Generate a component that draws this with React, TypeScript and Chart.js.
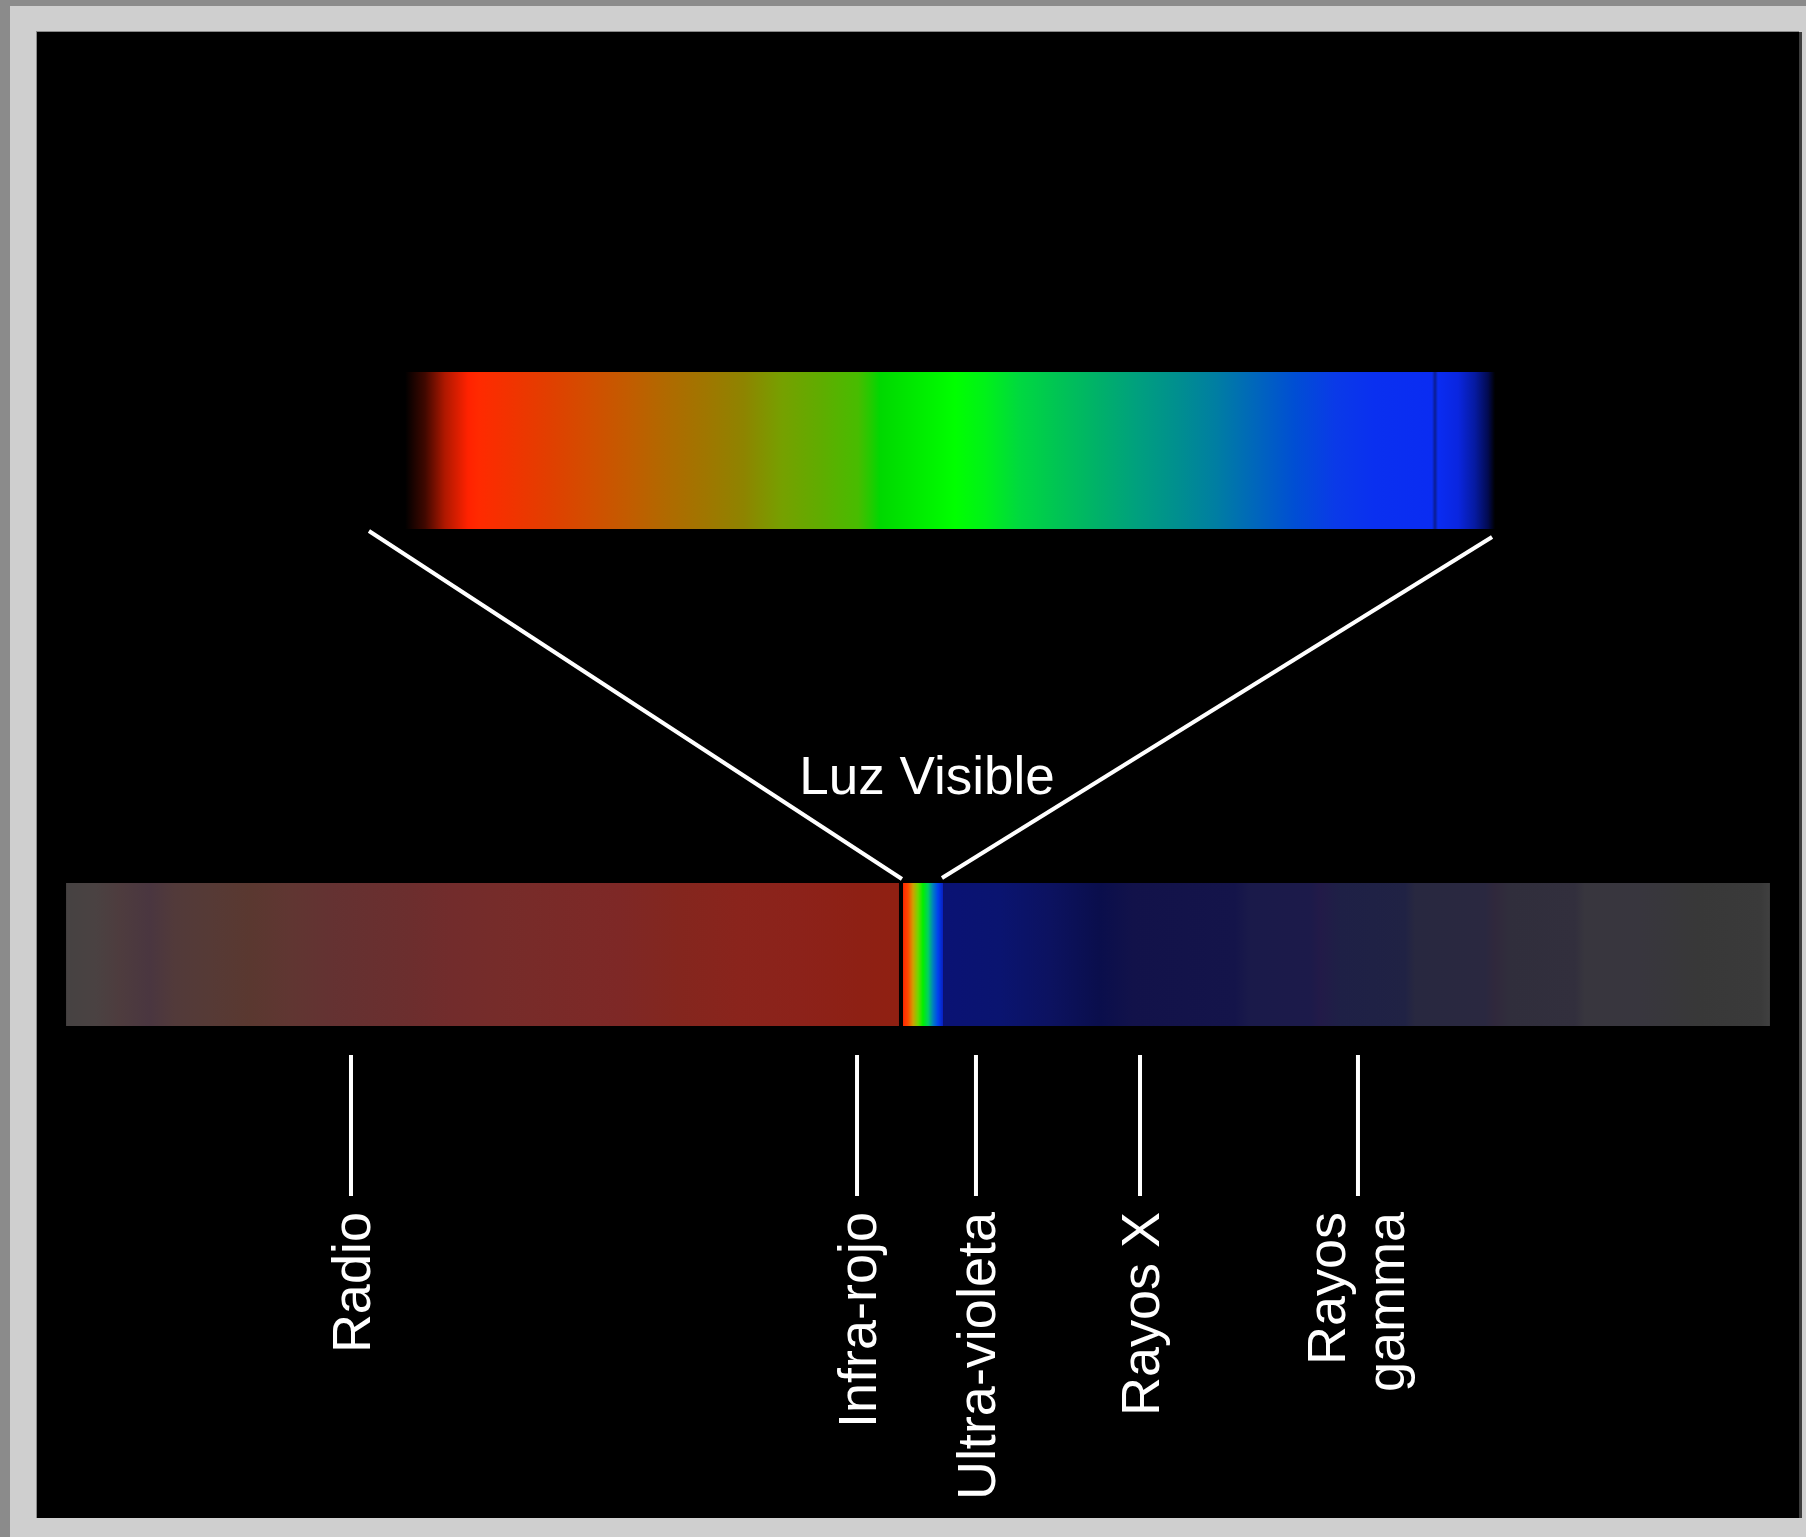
import React, { useEffect, useRef } from 'react';
import { Chart, registerables } from 'chart.js';

Chart.register(...registerables);

// ---------- data (scale units: x 0..100 across, y 0..100 bottom→top) ----------
const bandLabels = ['Radio', 'Infra-rojo', 'Ultra-violeta', 'Rayos X', 'Rayos\ngamma'];
const bandTickX = [17.82, 46.54, 53.29, 62.6, 74.97];
const bandTickY = [31.16, 21.67];
const bandLabelEndY = 20.59;

const visibleTitle = 'Luz Visible';
const visibleTitleX = 50.51;
const visibleTitleY = 48.72;

// full spectrum strip
const spectrumY = [33.11, 42.73];
const lowSideX = [1.65, 48.92];
const visibleSliceX = [49.15, 51.42];
const highSideX = [51.42, 98.35];

// enlarged visible band
const visibleBarX = [20.89, 82.75];
const visibleBarY = [66.55, 77.12];

// zoom guide lines
const leftGuideX = [18.84, 49.09];
const leftGuideY = [66.42, 43.0];
const rightGuideX = [82.58, 51.36];
const rightGuideY = [66.02, 43.07];

// colour stops
const visibleStopX = [20.89, 22.02, 23.16, 24.46, 25.09, 27.07, 29.23, 31.38, 33.6, 35.75, 37.91, 40.12, 42.28, 44.44, 46.59, 47.28, 47.84, 50.96, 52.1, 53.8, 55.79, 57.95, 60.33, 62.43, 64.87, 66.91, 69.18, 71.4, 73.67, 75.88, 79.17, 79.34, 79.51, 80.65, 81.61, 82.35, 82.75];
const visibleStopColor = ['#000000', '#400800', '#b01800', '#ff2200', '#ff2a00', '#f03400', '#e04000', '#d24e00', '#c25c00', '#b06a00', '#a07600', '#8e8400', '#76a000', '#60ac00', '#48bc00', '#24ca00', '#00d800', '#00f400', '#00ff00', '#00f218', '#00d840', '#00c454', '#00b06a', '#00a07e', '#008e90', '#007ea2', '#0066bc', '#004ed4', '#0a3ae8', '#0a30f0', '#0a2cf2', '#0a1c90', '#0a2cf2', '#0a26e0', '#061aa0', '#020a50', '#000000'];

const lowStopX = [1.65, 3.29, 4.71, 6.41, 7.83, 9.82, 12.09, 14.36, 16.63, 18.9, 21.17, 23.44, 26.28, 29.68, 33.09, 36.49, 39.9, 43.3, 46.71, 48.92];
const lowStopColor = ['#464242', '#4a4242', '#4e3c3e', '#4a3640', '#523a3a', '#563a36', '#5a3830', '#603632', '#643232', '#683030', '#6c2e2e', '#722c2c', '#762c2a', '#7a2a28', '#7e2826', '#84261e', '#8a241c', '#8c221a', '#8e2014', '#902012'];

const sliceStopX = [49.15, 49.43, 49.72, 50.0, 50.28, 50.57, 50.85, 51.14, 51.42];
const sliceStopColor = ['#ff2800', '#ff4800', '#d0a000', '#70d800', '#00f000', '#00d060', '#0080c0', '#0040f0', '#0a20c0'];

const highStopX = [51.42, 54.65, 57.49, 60.33, 62.2, 67.99, 68.84, 72.25, 72.81, 73.95, 77.64, 78.21, 82.18, 82.75, 83.6, 87.29, 87.85, 90.98, 94.38, 97.79, 98.35];
const highStopColor = ['#0a1274', '#0a1470', '#0c1260', '#0a0e4c', '#12124a', '#14144a', '#1a1a4a', '#1c1a4a', '#221a48', '#1e2046', '#202244', '#282840', '#2a2840', '#30283c', '#302e3c', '#322f3d', '#38363e', '#38363e', '#383838', '#3a3a3a', '#404040'];

// ---------- helpers ----------
function hGradient(stopX: number[], colors: string[]) {
  return (ctx: any) => {
    const chart = ctx.chart;
    const xs = chart.scales && chart.scales.x;
    if (!xs || !chart.chartArea) return colors[0];
    const x0 = xs.getPixelForValue(stopX[0]);
    const x1 = xs.getPixelForValue(stopX[stopX.length - 1]);
    const g = chart.ctx.createLinearGradient(x0, 0, x1, 0);
    stopX.forEach((v: number, i: number) => {
      const t = Math.min(1, Math.max(0, (xs.getPixelForValue(v) - x0) / (x1 - x0)));
      g.addColorStop(t, colors[i]);
    });
    return g;
  };
}

function bandDataset(xr: number[], yr: number[], stopX: number[], colors: string[]) {
  return {
    data: [
      { x: xr[0], y: yr[1] },
      { x: xr[1], y: yr[1] },
    ],
    fill: { value: yr[0] },
    backgroundColor: hGradient(stopX, colors),
    borderColor: 'rgba(0,0,0,0)',
    borderWidth: 0,
    pointRadius: 0,
  };
}

function lineDataset(xs: number[], ys: number[], width: number) {
  return {
    data: xs.map((x, i) => ({ x, y: ys[i] })),
    fill: false,
    borderColor: '#ffffff',
    borderWidth: width,
    pointRadius: 0,
    borderCapStyle: 'butt',
  };
}

const FONT = '"Liberation Sans", Arial, Helvetica, sans-serif';

const textPlugin = {
  id: 'spectrumText',
  afterDatasetsDraw(chart: any) {
    const { ctx, scales } = chart;
    const xs = scales.x;
    const ys = scales.y;
    ctx.save();
    ctx.fillStyle = '#ffffff';
    // title over the visible slice
    ctx.font = `53px ${FONT}`;
    ctx.textAlign = 'center';
    ctx.textBaseline = 'alphabetic';
    ctx.fillText(visibleTitle, xs.getPixelForValue(visibleTitleX), ys.getPixelForValue(visibleTitleY));
    // rotated band labels
    const size = 54;
    const capH = size * 0.716;
    const lineH = 59;
    ctx.font = `${size}px ${FONT}`;
    bandLabels.forEach((label, i) => {
      const lines = label.split('\n');
      const n = lines.length;
      const px = xs.getPixelForValue(bandTickX[i]);
      const py = ys.getPixelForValue(bandLabelEndY);
      ctx.save();
      ctx.translate(px, py);
      ctx.rotate(-Math.PI / 2);
      ctx.textAlign = 'right';
      ctx.textBaseline = 'alphabetic';
      lines.forEach((ln, j) => {
        const off = capH / 2 + (j - (n - 1) / 2) * lineH - (n > 1 ? 3 : 0);
        ctx.fillText(ln, 0, off);
      });
      ctx.restore();
    });
    ctx.restore();
  },
};

export default function App() {
  const ref = useRef<HTMLCanvasElement | null>(null);

  useEffect(() => {
    if (!ref.current) return;
    const datasets: any[] = [
      bandDataset(visibleBarX, visibleBarY, visibleStopX, visibleStopColor),
      bandDataset(lowSideX, spectrumY, lowStopX, lowStopColor),
      bandDataset(visibleSliceX, spectrumY, sliceStopX, sliceStopColor),
      bandDataset(highSideX, spectrumY, highStopX, highStopColor),
      lineDataset(leftGuideX, leftGuideY, 4),
      lineDataset(rightGuideX, rightGuideY, 4),
      ...bandTickX.map((x) => lineDataset([x, x], bandTickY, 4)),
    ];
    const chart = new Chart(ref.current, {
      type: 'line',
      data: { datasets },
      options: {
        animation: false,
        responsive: false,
        maintainAspectRatio: false,
        events: [],
        layout: { padding: 0 },
        parsing: true,
        plugins: {
          legend: { display: false },
          tooltip: { enabled: false },
          title: { display: false },
        },
        scales: {
          x: { type: 'linear', min: 0, max: 100, display: false },
          y: { type: 'linear', min: 0, max: 100, display: false },
        },
      } as any,
      plugins: [textPlugin],
    });
    return () => chart.destroy();
  }, []);

  return (
    <div
      style={{
        position: 'fixed',
        left: 0,
        top: 0,
        width: 1806,
        height: 1537,
        background: '#cfcfcf',
        overflow: 'hidden',
      }}
    >
      <div style={{ position: 'absolute', left: 0, top: 0, width: 1806, height: 6, background: '#8b8b8b' }} />
      <div style={{ position: 'absolute', left: 0, top: 0, width: 10, height: 1537, background: '#8b8b8b' }} />
      <div style={{ position: 'absolute', left: 1799, top: 32, width: 3, height: 1486, background: '#3c3c3c' }} />
      <div
        style={{
          position: 'absolute',
          left: 36,
          top: 31,
          width: 1763,
          height: 1487,
          background: '#000',
          borderTop: '1px solid #8a8a8a',
          borderLeft: '1px solid #8a8a8a',
          boxSizing: 'border-box',
        }}
      />
      <canvas
        ref={ref}
        width={1762}
        height={1486}
        style={{ position: 'absolute', left: 37, top: 32, width: 1762, height: 1486 }}
      />
    </div>
  );
}
